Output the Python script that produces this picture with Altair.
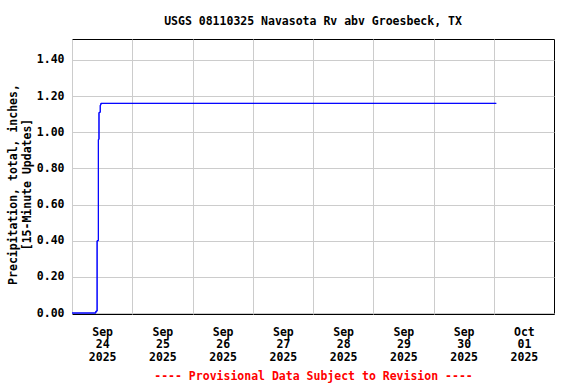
import altair as alt
import pandas as pd

# Data (15-minute precipitation, cumulative inches)
times = [
    "2025-09-24T00:00",
    "2025-09-24T09:30",
    "2025-09-24T10:00",
    "2025-09-24T10:30",
    "2025-09-24T10:45",
    "2025-09-24T11:15",
    "2025-09-24T11:30",
    "2025-10-01T01:00",
]
precip = [0.00, 0.01, 0.40, 0.96, 1.11, 1.15, 1.16, 1.16]

y_ticks = [0.0, 0.2, 0.4, 0.6, 0.8, 1.0, 1.2, 1.4]
grid_days = [alt.DateTime(year=2025, month=9, date=d) for d in range(24, 31)] + [
    alt.DateTime(year=2025, month=10, date=1)
]
label_days = [alt.DateTime(year=2025, month=9, date=d, hours=12) for d in range(24, 31)] + [
    alt.DateTime(year=2025, month=10, date=1, hours=12)
]

title_text = "USGS 08110325 Navasota Rv abv Groesbeck, TX"
y_title = ["Precipitation, total, inches,", "[15-Minute Updates]"]
footer = "---- Provisional Data Subject to Revision ----"

df = pd.DataFrame({"time": times, "value": precip})

FONT = "DejaVu Sans Mono"
FS = 11.5

x_scale = alt.Scale(
    domain=[
        alt.DateTime(year=2025, month=9, date=24),
        alt.DateTime(year=2025, month=10, date=2),
    ],
    nice=False,
)
y_enc = alt.Y(
    "value:Q",
    scale=alt.Scale(domain=[-0.0055, 1.516], nice=False, zero=False),
    axis=alt.Axis(
        values=y_ticks,
        format=".2f",
        ticks=False,
        domain=False,
        grid=True,
        gridColor="#cccccc",
        labelPadding=8,
        title=y_title,
        titleLineHeight=14,
        titlePadding=4,
        titleY=145,
    ),
)

base = alt.Chart(df).mark_line(interpolate="step-after", color="#0000FF", strokeWidth=1)

labels_layer = base.encode(
    x=alt.X(
        "time:T",
        scale=x_scale,
        axis=alt.Axis(
            orient="bottom",
            values=label_days,
            labelExpr="[timeFormat(datum.value, '%b'), timeFormat(datum.value, '%d'), timeFormat(datum.value, '%Y')]",
            labelFlush=False,
            labelOverlap=False,
            labelBound=False,
            labelLineHeight=12.5,
            labelPadding=12,
            ticks=False,
            domain=False,
            grid=False,
            title=footer,
            titleColor="#FF0000",
            titlePadding=8,
        ),
    ),
    y=y_enc,
)

grid_layer = base.encode(
    x=alt.X(
        "time:T",
        scale=x_scale,
        axis=alt.Axis(
            orient="bottom",
            values=grid_days,
            labels=False,
            ticks=False,
            domain=False,
            grid=True,
            gridColor="#cccccc",
            title=None,
        ),
    ),
    y=y_enc,
)

chart = (
    alt.layer(grid_layer, labels_layer)
    .resolve_axis(x="independent")
    .properties(
        width=482,
        height=275,
        title=alt.TitleParams(
            title_text,
            font=FONT,
            fontSize=FS,
            fontWeight="bold",
            anchor="middle",
            offset=12,
            color="black",
        ),
        autosize=alt.AutoSizeParams(type="none"),
        padding={"left": 72, "top": 39, "right": 22, "bottom": 70},
    )
    .configure_view(stroke="black", strokeWidth=1)
    .configure_axis(
        labelFont=FONT,
        labelFontSize=FS,
        labelFontWeight="bold",
        labelColor="black",
        titleFont=FONT,
        titleFontSize=FS,
        titleFontWeight="bold",
        gridWidth=1,
    )
    .configure_axisY(titleColor="black")
)

chart.save("out.html", embed_options={"renderer": "svg", "actions": False})
